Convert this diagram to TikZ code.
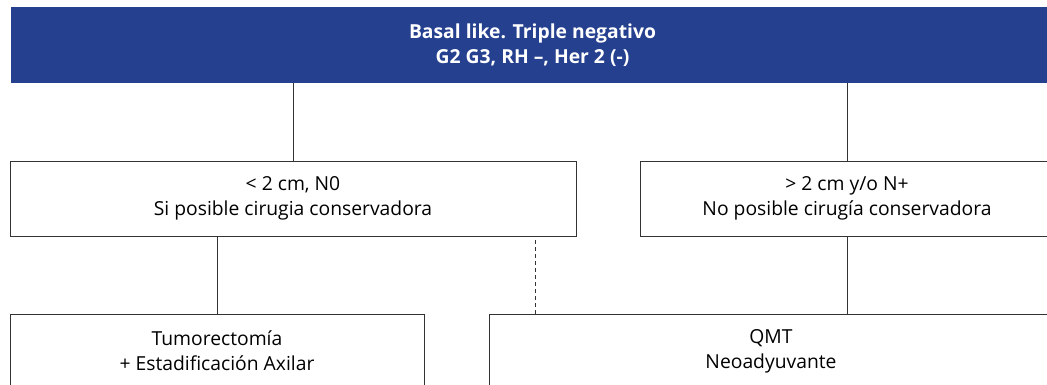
\documentclass[tikz,border=0pt]{standalone}
\usepackage{fontspec}
\setmainfont{Open Sans}
\definecolor{basalblue}{RGB}{37,64,143}
\tikzset{x=1pt,y=1pt,
    every node/.style={align=center,inner sep=0pt,
        font=\fontsize{19.3}{25}\selectfont},
    casebox/.style={draw=black!80,line width=0.9pt,fill=white},
    }

\begin{document}
\begin{tikzpicture}
	\path[use as bounding box,clip] (0,0) rectangle (1047,385);
	\tikzset{link/.style={draw=black!80,line width=0.9pt}}
	% header
	\node[fill=basalblue,text=white,minimum width=1043,minimum height=76,
		font=\fontsize{19.3}{25}\selectfont\bfseries]
		(basal) at (532.5,340) {Basal like. Triple negativo\\G2 G3, RH --, Her 2 (-)};
	% first level
	\node[casebox,minimum width=566,minimum height=75] (small) at (293,186.5)
		{< 2 cm, N0\\Si posible cirugia conservadora};
	\node[casebox,minimum width=414,minimum height=75] (large) at (847,186.5)
		{> 2 cm y/o N+\\No posible cirugía conservadora};
	% second level
	\node[casebox,minimum width=414,minimum height=74] (tumor) at (217,34)
		{Tumorectomía\\+ Estadificación Axilar};
	\node[casebox,minimum width=564,minimum height=74] (qmt) at (771,34)
		{QMT\\Neoadyuvante};
	\coordinate (qmtTop) at ([xshift=46.5]qmt.north west);
	\draw[link] (small.north) -- (small.north |- basal.south);
	\draw[link] (large.north) -- (large.north |- basal.south);
	\draw[link] (tumor.north) -- (tumor.north |- small.south);
	\draw[link] (large.south) -- (large.south |- qmt.north);
	\draw[link,dash pattern=on 4pt off 3pt] (qmtTop) -- (qmtTop |- small.south);
	%\draw[link] (small.south) -- (qmt.north);
\end{tikzpicture}
\end{document}
